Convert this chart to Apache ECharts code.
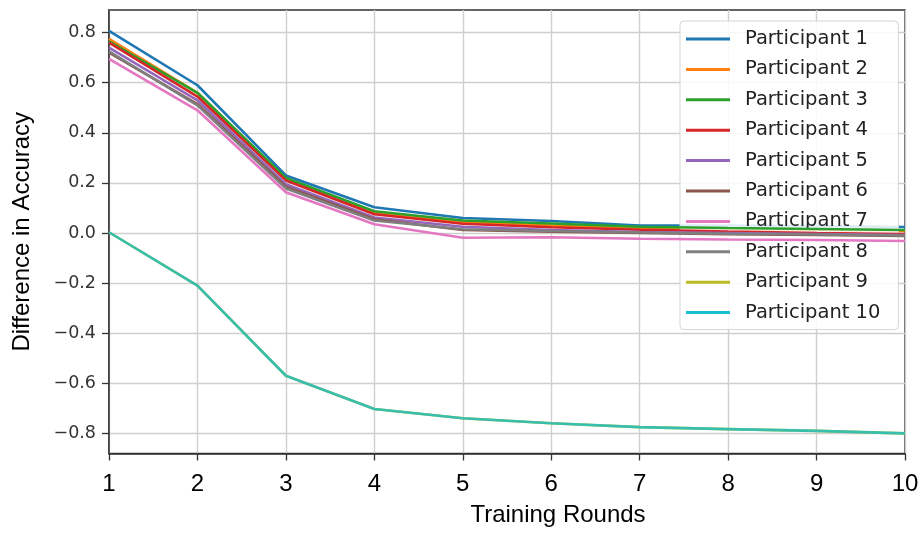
<!DOCTYPE html>
<html>
<head>
<meta charset="utf-8">
<script src="https://cdn.jsdelivr.net/npm/echarts@6/dist/echarts.min.js"></script>
<style>html,body{margin:0;padding:0;background:#fff}#c{width:922px;height:534px}</style>
</head>
<body>
<div id="c"></div>
<script>
const rounds = [1, 2, 3, 4, 5, 6, 7, 8, 9, 10];
const names = ['Participant 1','Participant 2','Participant 3','Participant 4','Participant 5','Participant 6','Participant 7','Participant 8','Participant 9','Participant 10'];
const p1  = [0.807, 0.590, 0.230, 0.103, 0.060, 0.048, 0.030, 0.030, 0.028, 0.024];
const p2  = [0.775, 0.560, 0.215, 0.080, 0.045, 0.030, 0.018, 0.012, 0.010, 0.008];
const p3  = [0.765, 0.560, 0.220, 0.087, 0.050, 0.038, 0.025, 0.020, 0.016, 0.012];
const p4  = [0.760, 0.545, 0.210, 0.075, 0.037, 0.023, 0.013, 0.006, 0.000, -0.004];
const p5  = [0.740, 0.530, 0.195, 0.062, 0.025, 0.012, 0.004, 0.000, -0.004, -0.008];
const p6  = [0.720, 0.515, 0.185, 0.055, 0.012, 0.005, 0.000, -0.005, -0.008, -0.012];
const p7  = [0.695, 0.490, 0.163, 0.035, -0.019, -0.017, -0.023, -0.026, -0.028, -0.032];
const p8  = [0.725, 0.510, 0.178, 0.050, 0.015, 0.008, 0.002, -0.003, -0.006, -0.010];
const p9  = [0.003, -0.210, -0.570, -0.703, -0.740, -0.760, -0.775, -0.783, -0.790, -0.800];
const p10 = [0.003, -0.210, -0.570, -0.703, -0.740, -0.760, -0.775, -0.783, -0.790, -0.800];
const allSeries = [p1, p2, p3, p4, p5, p6, p7, p8, p9, p10];
const colors = ['#1f77b4','#ff7f0e','#2ca02c','#d62728','#9467bd','#8c564b','#e377c2','#7f7f7f','#bcbd22','#17becf'];
const yTicks = [-0.8, -0.6, -0.4, -0.2, 0.0, 0.2, 0.4, 0.6, 0.8];
const xTicks = [1, 2, 3, 4, 5, 6, 7, 8, 9, 10];

const chart = echarts.init(document.getElementById('c'), null, {renderer: 'canvas'});
const fmtY = v => { const s = v.toFixed(1); return s.startsWith('-') ? '\u2212' + s.slice(1) : s; };

chart.setOption({
  animation: false,
  backgroundColor: '#ffffff',
  color: colors,
  grid: {left: 109, right: 17, top: 10, bottom: 80.5, show: true, borderColor: '#333', borderWidth: 1.5, containLabel: false},
  legend: {
    orient: 'vertical', left: 680, top: 21,
    padding: [8, 18, 7, 6],
    backgroundColor: 'rgba(255,255,255,0.85)', borderColor: '#d5d5d5', borderWidth: 1, borderRadius: 4,
    icon: 'rect', itemWidth: 44, itemHeight: 3, itemGap: 10.4,
    textStyle: {fontFamily: 'DejaVu Sans', fontSize: 19.5, color: '#222', lineHeight: 20, padding: [0, 0, 0, 10]},
    data: names
  },
  xAxis: {
    type: 'value', min: 1, max: 10, interval: 1,
    name: 'Training Rounds', nameLocation: 'middle', nameGap: 50,
    nameTextStyle: {fontFamily: 'Liberation Sans', fontSize: 24, color: '#000', padding: [0, 0, 0, 102]},
    axisLine: {show: true, onZero: false, lineStyle: {color: '#333', width: 1.5}},
    axisTick: {show: true, inside: false, length: 7, lineStyle: {color: '#333', width: 1.3}},
    axisLabel: {fontFamily: 'Liberation Sans', fontSize: 24, color: '#000', margin: 19,
      customValues: xTicks, formatter: v => String(v)},
    splitLine: {show: true, lineStyle: {color: '#cfcfcf', width: 1.4}}
  },
  yAxis: {
    type: 'value', min: -0.8805, max: 0.8905,
    name: 'Difference in Accuracy', nameLocation: 'middle', nameGap: 75,
    nameTextStyle: {fontFamily: 'Liberation Sans', fontSize: 24, color: '#000'},
    axisLine: {show: true, onZero: false, lineStyle: {color: '#333', width: 1.5}},
    axisTick: {show: true, inside: false, length: 7, customValues: yTicks, lineStyle: {color: '#333', width: 1.3}},
    axisLabel: {fontFamily: 'DejaVu Sans', fontSize: 17.5, color: '#333', margin: 13,
      customValues: yTicks, formatter: fmtY},
    splitLine: {show: true, lineStyle: {color: '#cfcfcf', width: 1.4}}
  },
  series: allSeries.map((vals, i) => ({
    name: names[i], type: 'line', showSymbol: false, symbol: 'none',
    data: rounds.map((r, j) => [r, vals[j]]),
    lineStyle: {width: 2.6, color: colors[i], opacity: i === 9 ? 0.8 : 1},
    itemStyle: {color: colors[i]},
    z: 2 + i
  }))
});
</script>
</body>
</html>
